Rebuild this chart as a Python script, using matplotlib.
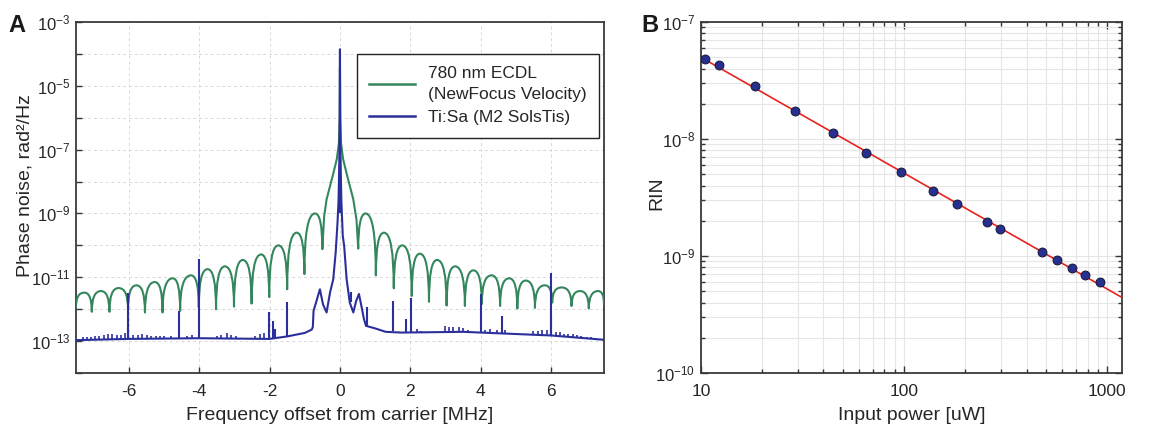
import numpy as np
import matplotlib
matplotlib.use("Agg")
import matplotlib.pyplot as plt
from matplotlib.path import Path
from matplotlib.patches import PathPatch
from matplotlib.ticker import FixedLocator, FuncFormatter, NullFormatter, LogLocator

plt.rcParams['font.family'] = ['Liberation Sans', 'DejaVu Sans']
plt.rcParams['mathtext.fontset'] = 'custom'
plt.rcParams['mathtext.rm'] = 'Liberation Sans'
plt.rcParams['mathtext.default'] = 'regular'
plt.rcParams['axes.unicode_minus'] = False

GREEN = '#34875c'
BLUE = '#2b2f9b'
RED = '#e8221e'
TXT = '#262626'

# ---- panel A: ECDL phase noise, lobe extrema (nulls / peaks)
ecdl_left_x = [-7.50, -7.26, -7.05, -6.79, -6.55, -6.29, -6.02, -5.78, -5.54, -5.26,
               -5.04, -4.75, -4.54, -4.23, -4.01, -3.76, -3.52, -3.27, -3.01, -2.76,
               -2.51, -2.24, -2.01, -1.75, -1.50, -1.23, -1.01, -0.71, -0.50]
ecdl_left_y = [1.15e-12, 3.3e-12, 8.3e-13, 3.7e-12, 8.3e-13, 4.6e-12, 1.0e-12, 5.6e-12, 7.9e-13, 7.1e-12,
               7.9e-13, 9.3e-12, 8.9e-13, 1.15e-11, 1.15e-12, 1.8e-11, 1.0e-12, 2.2e-11, 1.2e-12, 3.5e-11,
               1.5e-12, 5.2e-11, 2.4e-12, 1.0e-10, 4.2e-12, 2.5e-10, 1.26e-11, 1.0e-9, 7.6e-11]
ecdl_mid_x = [-0.45, -0.38, -0.20, -0.09, -0.03, -0.004, 0.0, 0.004, 0.03, 0.09, 0.20, 0.38, 0.47]
ecdl_mid_y = [7.9e-10, 2.75e-9, 1.6e-8, 5.0e-8, 1.6e-7, 1.0e-6, 4.0e-5, 1.0e-6, 1.6e-7, 5.0e-8,
              1.6e-8, 2.75e-9, 6.3e-10]
ecdl_right_x = [0.52, 0.73, 1.02, 1.25, 1.53, 1.77, 2.04, 2.27, 2.53, 2.76,
                3.03, 3.27, 3.55, 3.79, 4.03, 4.31, 4.55, 4.81, 5.04, 5.28,
                5.54, 5.82, 6.03, 6.30, 6.58, 6.82, 7.07, 7.34, 7.50]
ecdl_right_y = [7.9e-11, 1.0e-9, 1.15e-11, 2.5e-10, 4.5e-12, 1.0e-10, 2.6e-12, 5.5e-11, 1.7e-12, 3.5e-11,
                1.3e-12, 2.2e-11, 1.26e-12, 1.65e-11, 1.45e-12, 1.15e-11, 1.26e-12, 9.3e-12, 1.05e-12, 7.9e-12,
                1.1e-12, 5.6e-12, 1.6e-12, 4.8e-12, 1.26e-12, 3.7e-12, 1.05e-12, 3.7e-12, 1.45e-12]

# ---- panel A: Ti:Sa phase noise floor
tisa_x = [-7.5, -6.0, -4.0, -2.0, -1.5, -1.0, -0.8, -0.77, -0.75, -0.68, -0.57, -0.48, -0.38,
          -0.28, -0.19, -0.12, -0.07, -0.04, -0.015, 0.0, 0.015, 0.04, 0.08, 0.12, 0.19,
          0.28, 0.38, 0.46, 0.54, 0.62, 0.68, 0.74, 1.0, 1.3, 1.75, 3.5, 6.0, 7.5]
tisa_y = [1.07e-13, 1.17e-13, 1.23e-13, 1.17e-13, 1.4e-13, 1.8e-13, 2.3e-13, 2.8e-13, 8.9e-13, 1.6e-12,
          4.2e-12, 1.4e-12, 7.9e-13, 3.4e-12, 8.7e-12, 6.3e-11, 5.0e-10, 2.5e-9, 6.3e-8, 1.4e-4,
          6.3e-8, 2.5e-9, 2.0e-10, 9.5e-11, 8.7e-12, 1.6e-12, 7.9e-13, 1.8e-12, 3.0e-12, 1.1e-12,
          5.0e-13, 3.0e-13, 2.5e-13, 1.95e-13, 1.85e-13, 1.95e-13, 1.5e-13, 1.1e-13]

# Ti:Sa spurs: position, floor under it, top
spur_x = [-6.01, -6.03, -4.58, -4.01, -2.01, -1.90, -1.85, -1.50, -0.012, 0.012, 0.30,
          0.76, 1.50, 1.89, 2.02, 4.01, 4.59, 6.01, 5.99]
spur_base = [1.17e-13, 1.17e-13, 1.2e-13, 1.23e-13, 1.17e-13, 1.2e-13, 1.2e-13, 1.4e-13, 1e-9, 1e-9, 1.7e-12,
             2.8e-13, 2.0e-13, 1.9e-13, 1.9e-13, 1.9e-13, 1.8e-13, 1.5e-13, 1.5e-13]
spur_top = [3.2e-12, 2.5e-13, 8.7e-13, 3.8e-11, 7.9e-13, 4.4e-13, 2.4e-13, 1.74e-12, 1.3e-7, 1.3e-7, 3.5e-12,
            1.17e-12, 1.82e-12, 5.1e-13, 2.2e-12, 2.95e-12, 6.3e-13, 1.4e-11, 6.3e-13]

comb_x = [-7.31, -7.20, -7.07, -6.95, -6.84, -6.71, -6.59, -6.48, -6.34, -6.22, -6.10,
          -5.87, -5.73, -5.61, -5.48, -5.36, -5.23, -5.10, -4.99, -4.80, -4.35, -4.20,
          -3.50, -3.38, -3.22, -3.10, -2.96, -2.40, -2.27, -2.15,
          2.18, 2.30, 2.98, 3.11, 3.22, 3.38, 3.50, 3.65, 4.12, 4.25, 4.45, 4.69,
          5.49, 5.62, 5.75, 5.87, 6.13, 6.25, 6.37, 6.49, 6.61, 6.73, 6.86, 7.01, 7.13, 7.26]
comb_base = [1.08e-13, 1.09e-13, 1.1e-13, 1.11e-13, 1.12e-13, 1.13e-13, 1.14e-13, 1.15e-13, 1.16e-13, 1.17e-13, 1.17e-13,
             1.18e-13, 1.19e-13, 1.19e-13, 1.2e-13, 1.2e-13, 1.21e-13, 1.21e-13, 1.22e-13, 1.22e-13, 1.23e-13, 1.23e-13,
             1.22e-13, 1.21e-13, 1.2e-13, 1.2e-13, 1.19e-13, 1.18e-13, 1.18e-13, 1.17e-13,
             1.85e-13, 1.85e-13, 1.87e-13, 1.88e-13, 1.9e-13, 1.93e-13, 1.95e-13, 1.95e-13, 1.9e-13, 1.88e-13, 1.85e-13, 1.8e-13,
             1.65e-13, 1.6e-13, 1.57e-13, 1.53e-13, 1.48e-13, 1.45e-13, 1.4e-13, 1.36e-13, 1.32e-13, 1.28e-13, 1.24e-13, 1.2e-13, 1.16e-13, 1.13e-13]
comb_top = [1.32e-13, 1.32e-13, 1.32e-13, 1.41e-13, 1.48e-13, 1.58e-13, 1.66e-13, 1.66e-13, 1.58e-13, 1.58e-13, 1.78e-13,
            1.58e-13, 1.58e-13, 1.66e-13, 1.58e-13, 1.48e-13, 1.48e-13, 1.41e-13, 1.41e-13, 1.4e-13, 1.45e-13, 1.5e-13,
            1.48e-13, 1.58e-13, 1.78e-13, 1.55e-13, 1.41e-13, 1.48e-13, 1.66e-13, 1.85e-13,
            2.34e-13, 2.09e-13, 3.0e-13, 2.7e-13, 2.85e-13, 2.7e-13, 2.6e-13, 2.3e-13, 2.3e-13, 2.4e-13, 2.2e-13, 2.3e-13,
            2.1e-13, 2.1e-13, 2.2e-13, 2.3e-13, 1.95e-13, 1.9e-13, 1.66e-13, 1.66e-13, 1.66e-13, 1.58e-13, 1.48e-13, 1.38e-13, 1.32e-13, 1.26e-13]

# ---- panel B: RIN vs input power
power_uw = [10.5, 12.2, 18.4, 28.9, 44.4, 65.2, 96.3, 138.5, 181.8, 255.5, 294.8, 474.7, 565, 672, 779, 916]
rin = [4.80e-8, 4.26e-8, 2.82e-8, 1.72e-8, 1.12e-8, 7.59e-9, 5.19e-9, 3.59e-9, 2.77e-9, 1.94e-9,
       1.70e-9, 1.09e-9, 9.19e-10, 7.85e-10, 6.84e-10, 6.00e-10]


def lobe_path(xs, ys, verts, codes):
    # arch between consecutive extrema: vertical at the low end, flat at the high end
    for i in range(1, len(xs)):
        a = (xs[i - 1], ys[i - 1])
        b = (xs[i], ys[i])
        low, high = (b, a) if b[1] < a[1] else (a, b)
        verts += [(low[0], high[1]), b]
        codes += [Path.CURVE3, Path.CURVE3]


def sci(v, pos):
    e = int(round(np.log10(v)))
    return r'$10^{%d}$' % e


fig = plt.figure(figsize=(11.65, 4.26), dpi=100)
axA = fig.add_axes([0.0652, 0.1244, 0.4532, 0.824])
axB = fig.add_axes([0.6017, 0.1244, 0.3614, 0.824])

# panel A
verts = [(ecdl_left_x[0], ecdl_left_y[0])]
codes = [Path.MOVETO]
lobe_path(ecdl_left_x, ecdl_left_y, verts, codes)
for x, y in zip(ecdl_mid_x + ecdl_right_x[:1], ecdl_mid_y + ecdl_right_y[:1]):
    verts.append((x, y))
    codes.append(Path.LINETO)
lobe_path(ecdl_right_x, ecdl_right_y, verts, codes)

axA.set_yscale('log')
axA.set_xlim(-7.5, 7.5)
axA.set_ylim(1e-14, 1e-3)
axA.add_patch(PathPatch(Path(verts, codes), fill=False, edgecolor=GREEN, lw=1.5,
                        joinstyle='round', capstyle='round', zorder=3))
axA.plot(tisa_x, tisa_y, color=BLUE, lw=1.5, zorder=4)
axA.vlines(spur_x, spur_base, spur_top, color=BLUE, lw=1.5, zorder=4)
axA.vlines(comb_x, comb_base, comb_top, color=BLUE, lw=1.2, zorder=4)

axA.plot([], [], color=GREEN, lw=1.8, label='780 nm ECDL\n(NewFocus Velocity)')
axA.plot([], [], color=BLUE, lw=1.8, label='Ti:Sa (M2 SolsTis)')
leg = axA.legend(loc='upper right', bbox_to_anchor=(0.991, 0.908), borderaxespad=0,
                 fancybox=False, edgecolor='#222222', framealpha=1, fontsize=12.5,
                 handlelength=2.6, handletextpad=0.8, borderpad=0.7, labelspacing=0.45)
leg.get_frame().set_linewidth(1.0)
for t in leg.get_texts():
    t.set_color(TXT)
    t.set_linespacing(1.5)

axA.xaxis.set_major_locator(FixedLocator([-6, -4, -2, 0, 2, 4, 6]))
axA.yaxis.set_major_locator(FixedLocator([1e-13, 1e-11, 1e-9, 1e-7, 1e-5, 1e-3]))
axA.yaxis.set_minor_locator(FixedLocator([1e-14, 1e-12, 1e-10, 1e-8, 1e-6, 1e-4]))
axA.yaxis.set_major_formatter(FuncFormatter(sci))
axA.yaxis.set_minor_formatter(NullFormatter())
axA.grid(True, which='both', axis='y', color='#d8d8d8', lw=0.7, ls=(0, (3, 3)))
axA.grid(True, which='major', axis='x', color='#d8d8d8', lw=0.7, ls=(0, (3, 3)))
axA.set_axisbelow(True)
axA.tick_params(which='both', direction='in', length=4, width=1, colors='#333333',
                labelcolor=TXT)
axA.tick_params(axis='x', labelsize=12.5, pad=8)
axA.tick_params(axis='y', labelsize=12, pad=4)
axA.set_xlabel('Frequency offset from carrier [MHz]', fontsize=14, color=TXT, labelpad=6)
axA.set_ylabel('Phase noise, rad²/Hz', fontsize=14, color=TXT)
axA.yaxis.set_label_coords(-0.081, 0.533)

# panel B
axB.set_xscale('log')
axB.set_yscale('log')
xlimB = (10, 1180)
axB.set_xlim(*xlimB)
axB.set_ylim(1e-10, 1e-7)
k = np.polyfit(np.log10(power_uw), np.log10(rin), 1)
fit_x = np.array(xlimB)
axB.plot(fit_x, 10 ** np.polyval(k, np.log10(fit_x)), color=RED, lw=1.2, zorder=3)
axB.plot(power_uw, rin, 'o', ms=6.4, mfc='#27308f', mec='#151535', mew=0.7, zorder=4)

axB.xaxis.set_major_locator(FixedLocator([10, 100, 1000]))
axB.xaxis.set_major_formatter(FuncFormatter(lambda v, p: '%d' % v))
axB.xaxis.set_minor_locator(LogLocator(base=10, subs=np.arange(2, 10)))
axB.xaxis.set_minor_formatter(NullFormatter())
axB.yaxis.set_major_locator(FixedLocator([1e-10, 1e-9, 1e-8, 1e-7]))
axB.yaxis.set_major_formatter(FuncFormatter(sci))
axB.yaxis.set_minor_locator(LogLocator(base=10, subs=np.arange(2, 10)))
axB.yaxis.set_minor_formatter(NullFormatter())
axB.grid(True, which='both', color='#e6e6e6', lw=0.8, ls='-')
axB.set_axisbelow(True)
axB.tick_params(which='both', direction='in', top=True, right=True, colors='#333333',
                labelcolor=TXT, width=1)
axB.tick_params(axis='x', labelsize=12.5, pad=8)
axB.tick_params(axis='y', labelsize=12, pad=4)
axB.tick_params(which='major', length=5)
axB.tick_params(which='minor', length=3)
axB.set_xlabel('Input power [uW]', fontsize=14, color=TXT, labelpad=6)
axB.set_ylabel('RIN', fontsize=14, color=TXT)
axB.yaxis.set_label_coords(-0.0855, 0.513)

for ax in (axA, axB):
    for s in ax.spines.values():
        s.set_color('#3a3a3a')
        s.set_linewidth(1.3)

fig.text(8 / 1165, 1 - 32 / 426, 'A', fontsize=17, fontweight='bold', color='#1a1a1a')
fig.text(641 / 1165, 1 - 32 / 426, 'B', fontsize=17, fontweight='bold', color='#1a1a1a')

fig.savefig('out.png', dpi=100)
